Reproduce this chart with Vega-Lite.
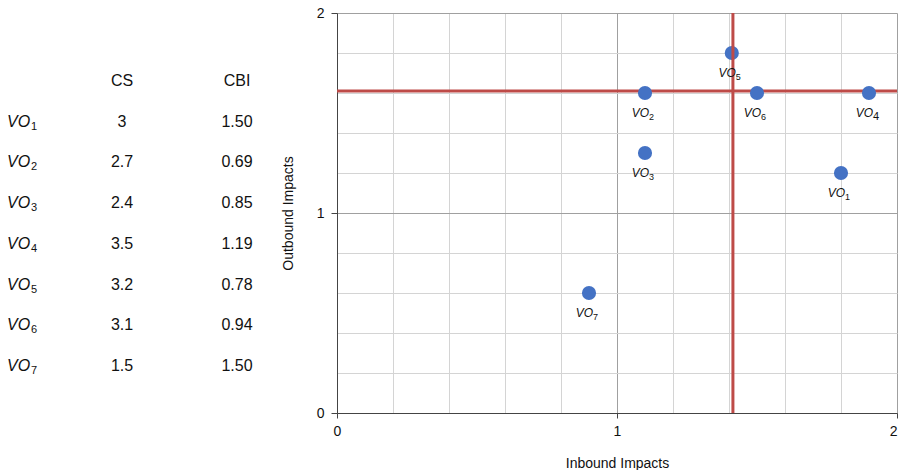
{
  "$schema": "https://vega.github.io/schema/vega-lite/v6.json",
  "padding": {"left": 0, "top": 6, "right": 0, "bottom": 0},
  "background": "white",
  "config": {"font": "Liberation Sans", "view": {"stroke": null}},
  "datasets": {
    "vo": [
      {"id": "1", "CS": "3", "CBI": "1.50", "inbound": 1.8, "outbound": 1.2},
      {"id": "2", "CS": "2.7", "CBI": "0.69", "inbound": 1.1, "outbound": 1.6},
      {"id": "3", "CS": "2.4", "CBI": "0.85", "inbound": 1.1, "outbound": 1.3},
      {"id": "4", "CS": "3.5", "CBI": "1.19", "inbound": 1.9, "outbound": 1.6},
      {"id": "5", "CS": "3.2", "CBI": "0.78", "inbound": 1.41, "outbound": 1.8},
      {"id": "6", "CS": "3.1", "CBI": "0.94", "inbound": 1.5, "outbound": 1.6},
      {"id": "7", "CS": "1.5", "CBI": "1.50", "inbound": 0.9, "outbound": 0.6}
    ],
    "thresholds": [{"inbound": 1.414, "outbound": 1.61}]
  },
  "bounds": "flush",
  "spacing": 0,
  "hconcat": [
    {
      "width": 337,
      "height": 400,
      "layer": [
        {
          "data": {"name": "vo"},
          "transform": [{"fold": ["CS", "CBI"], "as": ["col", "val"]}],
          "mark": {"type": "text", "fontSize": 16, "color": "#111"},
          "encoding": {
            "x": {"field": "col", "type": "nominal", "axis": null, "scale": {"type": "point", "padding": 0, "domain": ["label", "CS", "CBI"], "range": [7, 237]}},
            "y": {"field": "id", "type": "nominal", "axis": null, "scale": {"type": "point", "padding": 0, "domain": ["h", "1", "2", "3", "4", "5", "6", "7"], "range": [68, 353]}},
            "text": {"field": "val"}
          }
        },
        {
          "data": {"values": [{"col": "CS"}, {"col": "CBI"}]},
          "mark": {"type": "text", "fontSize": 16, "color": "#111"},
          "encoding": {
            "x": {"field": "col", "type": "nominal", "axis": null},
            "y": {"datum": "h", "type": "nominal", "axis": null},
            "text": {"field": "col"}
          }
        },
        {
          "data": {"name": "vo"},
          "mark": {"type": "text", "fontSize": 16, "fontStyle": "italic", "align": "left", "color": "#111"},
          "encoding": {
            "x": {"datum": "label", "type": "nominal", "axis": null},
            "y": {"field": "id", "type": "nominal", "axis": null},
            "text": {"value": "VO"}
          }
        },
        {
          "data": {"name": "vo"},
          "mark": {"type": "text", "fontSize": 11, "align": "left", "dx": 24, "dy": 5, "color": "#111"},
          "encoding": {
            "x": {"datum": "label", "type": "nominal", "axis": null},
            "y": {"field": "id", "type": "nominal", "axis": null},
            "text": {"field": "id"}
          }
        }
      ]
    },
    {
      "width": 560,
      "height": 400,
      "resolve": {"axis": {"x": "independent", "y": "independent"}},
      "layer": [
        {
          "data": {"name": "thresholds"},
          "mark": {"type": "rule", "color": "#BE4B48", "strokeWidth": 3},
          "encoding": {
            "y": {"field": "outbound", "type": "quantitative", "scale": {"domain": [0, 2], "nice": false},
              "axis": {"orient": "left", "values": [0.2, 0.4, 0.6, 0.8, 1.2, 1.4, 1.6, 1.8], "tickCount": 30, "grid": true, "gridColor": "#d4d4d4", "labels": false, "ticks": false, "domain": false, "title": null}}
          }
        },
        {
          "data": {"name": "vo"},
          "mark": {"type": "point", "filled": true, "opacity": 1, "size": 200, "color": "#4472C4"},
          "encoding": {
            "x": {"field": "inbound", "type": "quantitative", "scale": {"domain": [0, 2], "nice": false},
              "axis": {"orient": "bottom", "values": [0, 1, 2], "tickCount": 30, "labelExpr": "toString(datum.value)", "grid": true, "gridColor": "#a0a0a0",
                "domainColor": "#444", "tickColor": "#444", "tickSize": 5, "labelFontSize": 14, "labelColor": "#111", "labelPadding": 6,
                "labelAlign": {"condition": {"test": "datum.value == 2", "value": "right"}, "value": "center"},
                "title": "Inbound Impacts", "titleFontSize": 14, "titleFontWeight": "normal", "titleColor": "#111", "titlePadding": 18}},
            "y": {"field": "outbound", "type": "quantitative",
              "axis": {"orient": "left", "values": [0, 1, 2], "tickCount": 30, "labelExpr": "toString(datum.value)", "grid": true, "gridColor": "#a0a0a0",
                "domainColor": "#444", "tickColor": "#444", "tickSize": 6, "labelFontSize": 14, "labelColor": "#111", "labelPadding": 7,
                "title": "Outbound Impacts", "titleFontSize": 14, "titleFontWeight": "normal", "titleColor": "#111", "titlePadding": 21}}
          }
        },
        {
          "data": {"name": "thresholds"},
          "mark": {"type": "rule", "color": "#BE4B48", "strokeWidth": 3},
          "encoding": {
            "x": {"field": "inbound", "type": "quantitative",
              "axis": {"orient": "bottom", "values": [0.2, 0.4, 0.6, 0.8, 1.2, 1.4, 1.6, 1.8], "tickCount": 30, "grid": true, "gridColor": "#d4d4d4", "labels": false, "ticks": false, "domain": false, "title": null}}
          }
        },
        {
          "data": {"name": "vo"},
          "mark": {"type": "text", "fontSize": 12, "fontStyle": "italic", "align": "right", "dx": 4, "dy": 20, "color": "#111"},
          "encoding": {
            "x": {"field": "inbound", "type": "quantitative", "axis": null},
            "y": {"field": "outbound", "type": "quantitative", "axis": null},
            "text": {"value": "VO"}
          }
        },
        {
          "data": {"name": "vo"},
          "mark": {"type": "text", "align": "left", "dx": 4, "dy": 24, "color": "#111"},
          "encoding": {
            "x": {"field": "inbound", "type": "quantitative", "axis": null},
            "y": {"field": "outbound", "type": "quantitative", "axis": null},
            "text": {"field": "id"},
            "size": {"condition": {"test": "datum.id == '4'", "value": 11}, "value": 9}
          }
        }
      ]
    }
  ]
}
